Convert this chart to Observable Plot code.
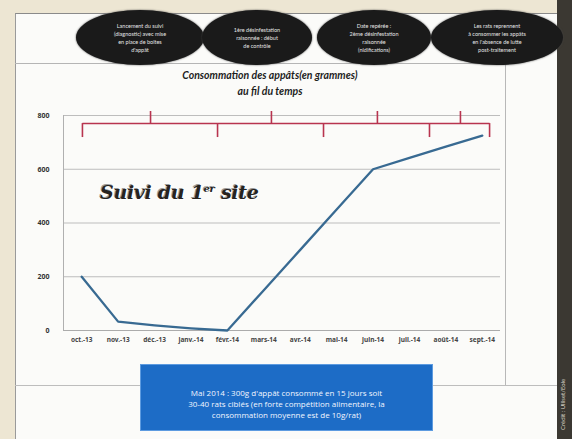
<!DOCTYPE html>
<html><head><meta charset="utf-8">
<script src="https://cdn.jsdelivr.net/npm/d3@7"></script>
<script src="https://cdn.jsdelivr.net/npm/@observablehq/plot@0.6"></script>
<style>
html,body{margin:0;padding:0;}
#wrap{position:relative;width:572px;height:439px;overflow:hidden;background:#ede6d3;font-family:Lato,"Open Sans",sans-serif;}
.abs{position:absolute;}
.oval{position:absolute;background:#1a1a1a;border-radius:50%;color:#e4e4e4;font-size:5.5px;line-height:8px;text-align:center;display:flex;align-items:center;justify-content:center;box-shadow:0 0 2px #444;}
</style></head>
<body>
<div id="wrap">
  <div class="abs" style="left:15px;top:13px;width:542px;height:426px;background:#fbfbf9;border-top:1px solid #8a8a8a;border-left:1px solid #9a9a9a;"></div>
  <div class="abs" style="left:15px;top:63px;width:490px;height:0;border-top:1px solid #b5b5b5;"></div>
  <div class="abs" style="left:505px;top:63px;width:0;height:323px;border-left:1px solid #b8b8b8;"></div>
  <div class="abs" style="left:15px;top:385px;width:542px;height:0;border-top:1px solid #bdbdbd;"></div>
  <div class="abs" style="left:557px;top:0;width:15px;height:439px;background:#3b3832;"></div>
  <div class="abs" style="left:559px;top:300px;width:12px;height:130px;color:#d8d4c8;font-size:6px;writing-mode:vertical-rl;transform:rotate(180deg);white-space:nowrap;">Crédit : Ulliset/Eole</div>
  <div id="chart" class="abs" style="left:0;top:0;"></div>
  <div id="ovals"></div>
  <div class="abs" style="left:120px;top:67px;width:300px;text-align:center;font-weight:bold;font-style:italic;font-size:10.5px;line-height:16px;color:#1e1e1e;">Consommation des appâts(en grammes)<br>au fil du temps</div>
  <div class="abs" style="left:100px;top:181px;font-family:'DejaVu Serif',serif;font-weight:bold;font-style:italic;font-size:19px;color:#262320;text-shadow:1px 1px 0 #fff,-1px -1px 0 #9a9a9a;letter-spacing:-0.3px;">Suivi du 1<sup style="font-size:10px;">er</sup> site</div>
  <div class="abs" style="left:140px;top:364px;width:293px;height:67px;background:#1d6cc6;border:1px solid #5d9be0;box-sizing:border-box;color:#f2f6ff;font-family:'Open Sans',sans-serif;font-size:8px;line-height:11px;text-align:center;padding-top:22px;">Mai 2014 : 300g d'appât consommé en 15 jours soit<br>30-40 rats ciblés (en forte compétition alimentaire, la<br>consommation moyenne est de 10g/rat)</div>
</div>
<script>
const months = ["oct.-13","nov.-13","déc.-13","janv.-14","févr.-14","mars-14","avr.-14","mai-14","juin-14","juil.-14","août-14","sept.-14"];
const grams = [200, 33, 19, 8, 0, 150, 300, 450, 600, 642, 684, 725];
const yTicks = [0, 200, 400, 600, 800];
// phase braces (in month-index units)
const braceFrom = [0.02, 3.73, 6.64, 9.55];
const braceTo = [3.73, 6.64, 9.55, 11.2];
const braceMid = [1.89, 5.21, 8.12, 10.4];
const braceLevel = 770, braceTip = 815, braceHook = 718;
const phaseText = [
  "Lancement du suivi<br>(diagnostic) avec mise<br>en place de boîtes<br>d'appât",
  "1ère désinfestation<br>raisonnée : début<br>de contrôle",
  "Date repérée :<br>2ème désinfestation<br>raisonnée<br>(nidifications)",
  "Les rats reprennent<br>à consommer les appâts<br>en l'absence de lutte<br>post-traitement"
];
const ovalCx = [140, 257, 374, 497], ovalRx = [64, 55, 57, 66];

const data = months.map((m, i) => ({i, m, g: grams[i]}));
const braces = braceFrom.map((f, k) => ({f, t: braceTo[k], mid: braceMid[k]}));

const plot = Plot.plot({
  width: 572, height: 439,
  marginLeft: 63, marginRight: 72, marginTop: 115, marginBottom: 109,
  style: {background: "transparent", overflow: "visible"},
  x: {type: "linear", domain: [-0.5, 11.5]},
  y: {domain: [0, 800]},
  marks: [
    Plot.gridY(yTicks.filter(d => d > 0), {stroke: "#bdbdbd", strokeOpacity: 1, strokeWidth: 1}),
    Plot.ruleY([0], {stroke: "#ababab", strokeWidth: 1.2}),
    Plot.ruleX([-0.5], {y1: 0, y2: 800, stroke: "#b0b0b0"}),
    Plot.axisY({ticks: yTicks, tickSize: 0, tickPadding: 14, fontSize: 7, fontWeight: "bold", fill: "#333", label: null}),
    Plot.axisX({ticks: d3.range(12), tickFormat: i => months[i], tickSize: 0, tickPadding: 7, fontSize: 6.5, fontWeight: "bold", fill: "#444", label: null}),
    Plot.link(braces, {x1: "f", x2: "t", y1: braceLevel, y2: braceLevel, stroke: "#b8344f", strokeWidth: 1.6}),
    Plot.ruleX(braces, {x: "mid", y1: braceLevel, y2: braceTip, stroke: "#b8344f", strokeWidth: 1.6}),
    Plot.ruleX(braces, {x: "f", y1: braceHook, y2: braceLevel, stroke: "#b8344f", strokeWidth: 1.6}),
    Plot.ruleX(braces.slice(-1), {x: "t", y1: braceHook, y2: braceLevel, stroke: "#b8344f", strokeWidth: 1.6}),
    Plot.line(data, {x: "i", y: "g", stroke: "#386a92", strokeWidth: 2.3})
  ]
});
document.getElementById("chart").appendChild(plot);

const ov = document.getElementById("ovals");
phaseText.forEach((t, k) => {
  const d = document.createElement("div");
  d.className = "oval";
  d.style.left = (ovalCx[k] - ovalRx[k]) + "px";
  d.style.top = "10px";
  d.style.width = (2 * ovalRx[k]) + "px";
  d.style.height = "55px";
  d.innerHTML = "<span>" + t + "</span>";
  ov.appendChild(d);
});
</script>
</body></html>
